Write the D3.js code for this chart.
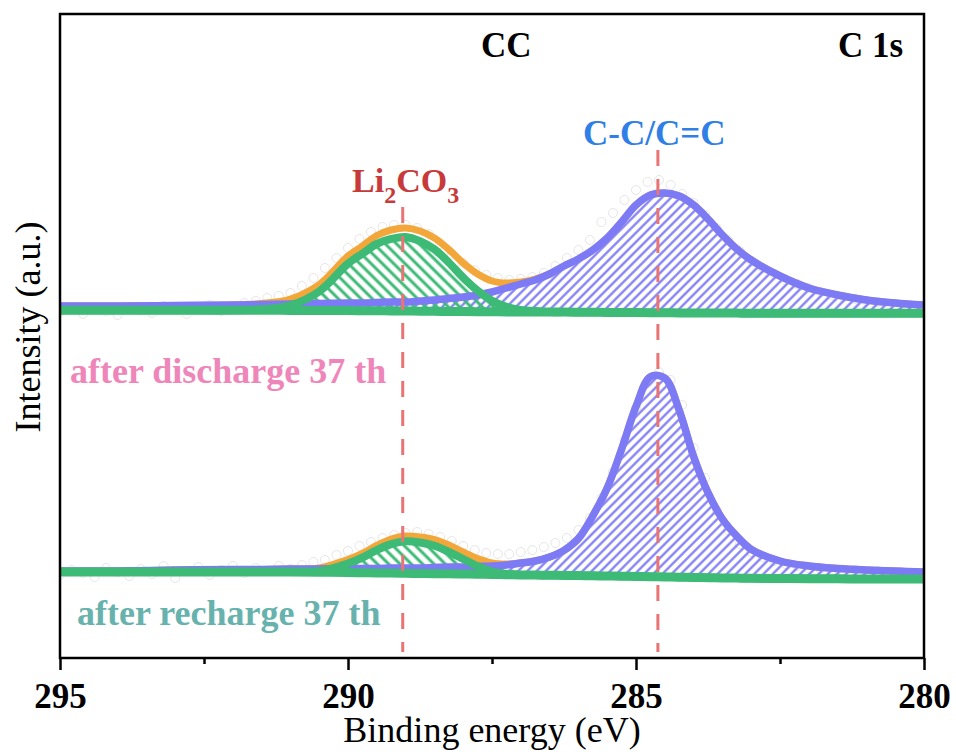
<!DOCTYPE html>
<html>
<head>
<meta charset="utf-8">
<script src="https://cdn.jsdelivr.net/npm/d3@7"></script>
<style>
  body { margin: 0; background: #fff; }
  svg { display: block; }
  text { font-family: "Times New Roman", "Liberation Serif", serif; }
</style>
</head>
<body>
<svg id="chart" width="956" height="754"></svg>
<script>
// binding energy grid of the fitted curves (eV)
var energy = [295, 294, 293, 292, 291.5, 291, 290.5, 290, 289.75, 289.5, 289.25, 289, 288.75, 288.5,
  288.25, 288, 287.75, 287.5, 287.25, 287, 286.75, 286.5, 286.25, 286, 285.75, 285.5, 285.25, 285,
  284.75, 284.5, 284.25, 284, 283.75, 283.5, 283.25, 283, 282.5, 282, 281.5, 281, 280.5, 280];

// after discharge (upper trace): background and the two fitted components above it
var topBase = [347.7, 347.7, 347.7, 347.7, 347.7, 347.6, 347.5, 347.4, 347.3, 347.2, 347.1, 347.0, 346.8, 346.7,
  346.5, 346.4, 346.3, 346.2, 346.1, 346.0, 346.0, 345.9, 345.9, 345.8, 345.7, 345.6, 345.5, 345.4,
  345.3, 345.2, 345.1, 345.0, 345.0, 344.9, 344.9, 344.8, 344.8, 344.7, 344.7, 344.7, 344.7, 344.7];
var topLi = [0, 0, 0, 0, 1, 5, 19, 47, 57, 67, 72, 74, 70, 62,
  49, 34, 21, 11, 5, 2, 1, 0, 0, 0, 0, 0, 0, 0,
  0, 0, 0, 0, 0, 0, 0, 0, 0, 0, 0, 0, 0, 0];
var topCC = [4.3, 4.3, 4.8, 5.3, 5.8, 6.4, 7.0, 7.6, 7.7, 8.3, 8.9, 9.0, 10.2, 11.3,
  13.0, 14.6, 16.7, 19.8, 23.9, 28.0, 32.0, 38.1, 46.1, 53.2, 62.3, 74.4, 90.5, 107.6,
  117.7, 119.8, 116.9, 108.0, 94.0, 78.1, 64.1, 53.2, 37.2, 25.3, 18.3, 13.3, 10.3, 8.3];

// after recharge (lower trace)
var botBase = [86, 86, 86, 86, 86, 86, 85.8, 85.5, 85.3, 85.0, 84.9, 84.7, 84.5, 84.3,
  84.2, 84.0, 83.8, 83.5, 83.3, 83.0, 82.9, 82.7, 82.6, 82.4, 82.2, 82.0, 81.8, 81.5,
  81.3, 81.0, 80.8, 80.5, 80.3, 80.0, 79.9, 79.7, 79.5, 79.3, 79.2, 79.0, 79.0, 79.0];
var botLi = [0, 0, 0, 0, 0, 0, 1, 9, 15, 23, 29, 32, 31, 28,
  22, 15, 8, 3, 1, 0, 0, 0, 0, 0, 0, 0, 0, 0,
  0, 0, 0, 0, 0, 0, 0, 0, 0, 0, 0, 0, 0, 0];
var botCC = [1, 1, 2, 2.5, 2.5, 3, 3.2, 4, 4.2, 4.5, 5.1, 5.3, 5.5, 6.2,
  6.8, 7, 7.7, 8.5, 9.7, 12, 14.1, 18.3, 25, 37, 60, 88, 127, 170,
  200, 199, 167, 121, 85, 59, 42, 29, 17.5, 12.7, 10.3, 9, 8, 7];

// measured points (hollow circles)
var rawEnergy = [295, 294.8, 294.6, 294.4, 294.2, 294, 293.8, 293.6, 293.4, 293.2,
  293, 292.8, 292.6, 292.4, 292.2, 292, 291.8, 291.6, 291.4, 291.2,
  291, 290.8, 290.6, 290.4, 290.2, 290, 289.8, 289.6, 289.4, 289.2,
  289, 288.8, 288.6, 288.4, 288.2, 288, 287.8, 287.6, 287.4, 287.2,
  287, 286.8, 286.6, 286.4, 286.2, 286, 285.8, 285.6, 285.4, 285.2,
  285, 284.8, 284.6, 284.4, 284.2, 284, 283.8, 283.6, 283.4, 283.2,
  283, 282.8, 282.6, 282.4, 282.2, 282, 281.8, 281.6, 281.4, 281.2,
  281, 280.8, 280.6, 280.4, 280.2, 280];
var topRaw = [346, 349, 344, 350, 347, 343, 351, 348, 345, 352,
  349, 344, 350, 353, 347, 352, 355, 357, 360, 362,
  365, 372, 380, 390, 400, 410, 419, 426, 431, 433,
  433, 430, 424, 414, 404, 395, 388, 383, 380, 378,
  379, 381, 385, 392, 400, 408, 418, 436, 445, 458,
  468, 476, 478, 473, 464, 455, 443, 430, 418, 407,
  397, 390, 384, 378, 374, 370, 366, 363, 361, 359,
  357, 356, 354, 353, 352, 352];
var botRaw = [83, 88, 85, 81, 90, 86, 82, 89, 84, 92,
  80, 87, 91, 83, 88, 92, 85, 90, 87, 92,
  89, 93, 96, 98, 103, 107, 112, 116, 120, 123,
  125, 126, 124, 121, 117, 112, 108, 105, 104, 104,
  106, 108, 111, 115, 120, 128, 140, 160, 186, 218,
  250, 275, 286, 278, 253, 210, 180, 148, 128, 114,
  106, 101, 97, 94, 92, 90, 89, 88, 86, 88,
  85, 87, 84, 86, 84, 85];

var xTicks = [295, 290, 285, 280];
var xMinorTicks = [292.5, 287.5, 282.5];
var peakPositions = [289.05, 284.62];   // Li2CO3, C-C/C=C

var colors = {
  envelope: "#f3a73a",
  cc: "#7d7af5",
  li: "#3dba76",
  dash: "#e87474",
  raw: "#e2e2e2"
};

var svg = d3.select("#chart");
var plotL = 60, plotR = 924, plotT = 14, plotB = 658;

var x = d3.scaleLinear().domain([295, 280]).range([plotL, plotR]);
var y = d3.scaleLinear().domain([0, 644]).range([plotB, plotT]);

var defs = svg.append("defs");
defs.append("clipPath").attr("id", "plotclip")
  .append("rect").attr("x", plotL).attr("y", plotT)
  .attr("width", plotR - plotL).attr("height", plotB - plotT);

function hatch(id, color, gap, width, angle) {
  var p = defs.append("pattern")
    .attr("id", id)
    .attr("patternUnits", "userSpaceOnUse")
    .attr("width", gap).attr("height", gap)
    .attr("patternTransform", "rotate(" + angle + ")");
  p.append("line")
    .attr("x1", gap / 2).attr("y1", 0)
    .attr("x2", gap / 2).attr("y2", gap)
    .attr("stroke", color).attr("stroke-width", width);
}
hatch("hatchCC", colors.cc, 6.5, 2.2, 45);
hatch("hatchLi", colors.li, 8, 3, -45);

var plot = svg.append("g").attr("clip-path", "url(#plotclip)");

function rows(base, li, cc) {
  return energy.map(function(e, i) {
    return { e: e, base: base[i], li: li[i], cc: cc[i] };
  });
}

var spectra = [rows(topBase, topLi, topCC), rows(botBase, botLi, botCC)];
var rawSets = [topRaw, botRaw];

var curve = d3.curveCatmullRom.alpha(0.5);

function areaOf(key) {
  return d3.area()
    .x(function(d) { return x(d.e); })
    .y0(function(d) { return y(d.base); })
    .y1(function(d) { return y(d.base + d[key]); })
    .curve(curve);
}
function lineOf(fn) {
  return d3.line()
    .x(function(d) { return x(d.e); })
    .y(function(d) { return y(fn(d)); })
    .curve(curve);
}

rawSets.forEach(function(raw) {
  plot.append("g").selectAll("circle")
    .data(raw)
    .enter().append("circle")
    .attr("cx", function(d, i) { return x(rawEnergy[i]); })
    .attr("cy", function(d) { return y(d); })
    .attr("r", 4.5)
    .attr("fill", "none")
    .attr("stroke", colors.raw)
    .attr("stroke-width", 0.9);
});

spectra.forEach(function(data) {
  var g = plot.append("g");

  g.append("path").datum(data)
    .attr("d", areaOf("cc"))
    .attr("fill", "url(#hatchCC)");
  g.append("path").datum(data)
    .attr("d", areaOf("li"))
    .attr("fill", "url(#hatchLi)");

  // fit envelope
  g.append("path").datum(data)
    .attr("d", lineOf(function(d) { return d.base + d.li + d.cc; }))
    .attr("fill", "none").attr("stroke", colors.envelope).attr("stroke-width", 7);
  // C-C/C=C component
  g.append("path").datum(data)
    .attr("d", lineOf(function(d) { return d.base + d.cc; }))
    .attr("fill", "none").attr("stroke", colors.cc).attr("stroke-width", 7.5);
  // Li2CO3 component
  g.append("path").datum(data)
    .attr("d", lineOf(function(d) { return d.base + d.li; }))
    .attr("fill", "none").attr("stroke", colors.li).attr("stroke-width", 8);
  // background
  g.append("path").datum(data)
    .attr("d", lineOf(function(d) { return d.base; }))
    .attr("fill", "none").attr("stroke", colors.li).attr("stroke-width", 9);
});

// peak position guides
var dashTop = [207, 150];
svg.append("g").selectAll("line")
  .data(peakPositions)
  .enter().append("line")
  .attr("x1", function(d) { return x(d); })
  .attr("x2", function(d) { return x(d); })
  .attr("y1", function(d, i) { return dashTop[i]; })
  .attr("y2", plotB - 6)
  .attr("stroke", colors.dash)
  .attr("stroke-width", 3)
  .attr("stroke-dasharray", "16,13");

// x axis
var axis = svg.append("g")
  .attr("transform", "translate(0," + plotB + ")")
  .call(d3.axisBottom(x).tickValues(xTicks).tickSize(12).tickPadding(13).tickFormat(d3.format("d")));
axis.select(".domain").remove();
axis.selectAll("line").attr("stroke", "#000").attr("stroke-width", 2.5);
axis.selectAll("text")
  .attr("fill", "#000")
  .style("font-family", "'Times New Roman','Liberation Serif',serif")
  .style("font-size", "35px")
  .style("font-weight", "bold");

var minor = svg.append("g")
  .attr("transform", "translate(0," + plotB + ")")
  .call(d3.axisBottom(x).tickValues(xMinorTicks).tickSize(6).tickFormat(""));
minor.select(".domain").remove();
minor.selectAll("line").attr("stroke", "#000").attr("stroke-width", 2.5);

// frame
svg.append("rect")
  .attr("x", plotL).attr("y", plotT)
  .attr("width", plotR - plotL).attr("height", plotB - plotT)
  .attr("fill", "none").attr("stroke", "#000").attr("stroke-width", 2.5);

// axis titles
svg.append("text")
  .attr("x", (plotL + plotR) / 2).attr("y", 742)
  .attr("text-anchor", "middle")
  .style("font-size", "36px")
  .text("Binding energy (eV)");

svg.append("text")
  .attr("transform", "translate(40,327) rotate(-90)")
  .attr("text-anchor", "middle")
  .style("font-size", "36px")
  .text("Intensity (a.u.)");

// labels
function label(tx, ty, str, color, size) {
  return svg.append("text")
    .attr("x", tx).attr("y", ty)
    .attr("fill", color)
    .style("font-size", size + "px")
    .style("font-weight", "bold")
    .text(str);
}
label(481, 57, "CC", "#000", 35);
label(838, 57, "C 1s", "#000", 35);
label(583, 145, "C-C/C=C", "#2f7fe6", 35);
label(70, 383, "after discharge 37 th", "#ef86b9", 36);
label(77, 625, "after recharge 37 th", "#68b2ae", 36);

var li = svg.append("text")
  .attr("x", 352).attr("y", 192)
  .attr("fill", "#c83a3a")
  .style("font-size", "34px")
  .style("font-weight", "bold");
li.append("tspan").text("Li");
li.append("tspan").attr("dy", 11).style("font-size", "24px").text("2");
li.append("tspan").attr("dy", -11).text("CO");
li.append("tspan").attr("dy", 11).style("font-size", "24px").text("3");
</script>
</body>
</html>
